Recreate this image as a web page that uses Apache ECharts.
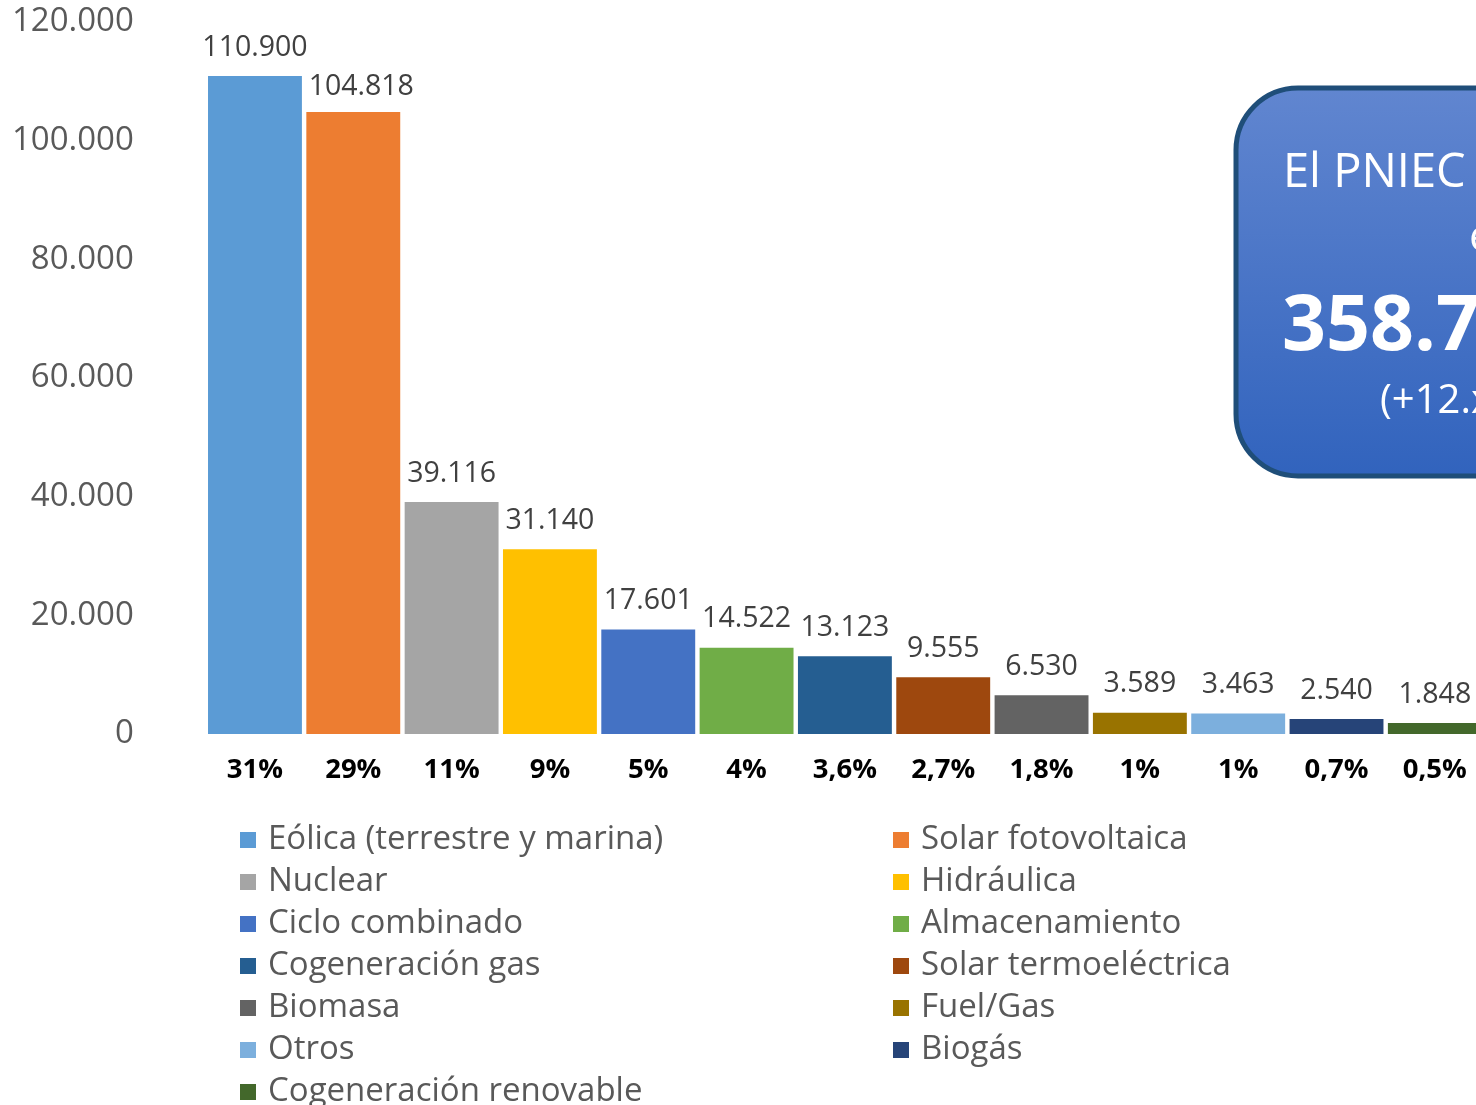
<!DOCTYPE html>
<html>
<head>
<meta charset="utf-8">
<script src="https://cdn.jsdelivr.net/npm/echarts@6/dist/echarts.min.js"></script>
<style>
html,body{margin:0;padding:0;background:#fff;}
#chart{width:1476px;height:1105px;}
</style>
</head>
<body>
<div id="chart"></div>
<script>
const categories = ["Eólica (terrestre y marina)","Solar fotovoltaica","Nuclear","Hidráulica","Ciclo combinado","Almacenamiento","Cogeneración gas","Solar termoeléctrica","Biomasa","Fuel/Gas","Otros","Biogás","Cogeneración renovable"];
const values = [110900,104818,39116,31140,17601,14522,13123,9555,6530,3589,3463,2540,1848];
const percentLabels = ["31%","29%","11%","9%","5%","4%","3,6%","2,7%","1,8%","1%","1%","0,7%","0,5%"];
const colors = ["#5B9BD5","#ED7D31","#A5A5A5","#FFC000","#4472C4","#70AD47","#255E91","#9E480E","#636363","#997300","#7CAFDD","#264478","#43682B"];
const yTicks = [0,20000,40000,60000,80000,100000,120000];
const boxLines = ["El PNIEC 2023 prevé", "en 2030", "358.745 MW", "(+12.xxx MW)"];

const FONT = "'Open Sans', 'Noto Sans', sans-serif";
function fmt(v){ return String(v).replace(/\B(?=(\d{3})+(?!\d))/g, '.'); }

const chart = echarts.init(document.getElementById('chart'));

const series = categories.map((name, i) => ({
  name: name,
  type: 'bar',
  stack: 'total',
  barCategoryGap: '4.5%',
  itemStyle: { color: colors[i] },
  label: {
    show: true,
    position: 'top',
    distance: 14,
    color: '#404040',
    fontSize: 28.5,
    fontFamily: FONT,
    formatter: p => fmt(p.value)
  },
  data: values.map((v, j) => {
    if (j !== i) return '-';
    if (j === 1) return { value: v, label: { offset: [8, 3] } };
    return v;
  })
}));

const evenNames = categories.filter((_, i) => i % 2 === 0);
const oddNames = categories.filter((_, i) => i % 2 === 1);
const legendBase = {
  orient: 'vertical',
  top: 822,
  height: 400,
  padding: 0,
  itemGap: 6,
  icon: 'rect',
  itemWidth: 16,
  itemHeight: 16,
  textStyle: { fontSize: 33, lineHeight: 36, color: '#595959', fontFamily: FONT, padding: [0,0,0,7] }
};

const option = {
  animation: false,
  backgroundColor: '#ffffff',
  grid: { left: 205.8, right: -8, top: 22, bottom: 371, containLabel: false, outerBoundsMode: 'none' },
  xAxis: {
    type: 'category',
    data: percentLabels,
    axisLine: { show: false },
    axisTick: { show: false },
    axisLabel: { color: '#000000', fontWeight: 'bold', fontSize: 27.5, fontFamily: FONT, margin: 22, interval: 0 }
  },
  yAxis: {
    type: 'value',
    min: yTicks[0],
    max: yTicks[yTicks.length - 1],
    interval: yTicks[1] - yTicks[0],
    splitLine: { show: false },
    axisLine: { show: false },
    axisTick: { show: false },
    axisLabel: { color: '#595959', fontSize: 33, fontFamily: FONT, margin: 72, padding: [6,0,0,0], formatter: v => fmt(v) }
  },
  legend: [
    Object.assign({}, legendBase, { left: 240, data: evenNames }),
    Object.assign({}, legendBase, { left: 893, data: oddNames })
  ],
  series: series,
  graphic: [
    {
      type: 'rect',
      shape: { x: 1236, y: 88, width: 420, height: 388, r: 62 },
      style: {
        fill: new echarts.graphic.LinearGradient(0, 0, 0, 1, [
          { offset: 0, color: '#6186d0' },
          { offset: 1, color: '#3163bd' }
        ]),
        stroke: '#1f4e79',
        lineWidth: 5
      },
      z: 10
    },
    { type: 'text', left: 1283, top: 150, z: 11,
      style: { text: boxLines[0], fill: '#ffffff', font: "47px " + FONT } },
    { type: 'text', left: 1469, top: 216, z: 11,
      style: { text: boxLines[1], fill: '#ffffff', font: "44px " + FONT } },
    { type: 'text', left: 1282, top: 290, z: 11,
      style: { text: boxLines[2], fill: '#ffffff', font: "bold 77px " + FONT } },
    { type: 'text', left: 1380, top: 382, z: 11,
      style: { text: boxLines[3], fill: '#ffffff', font: "40px " + FONT } }
  ]
};
chart.setOption(option);
</script>
</body>
</html>
